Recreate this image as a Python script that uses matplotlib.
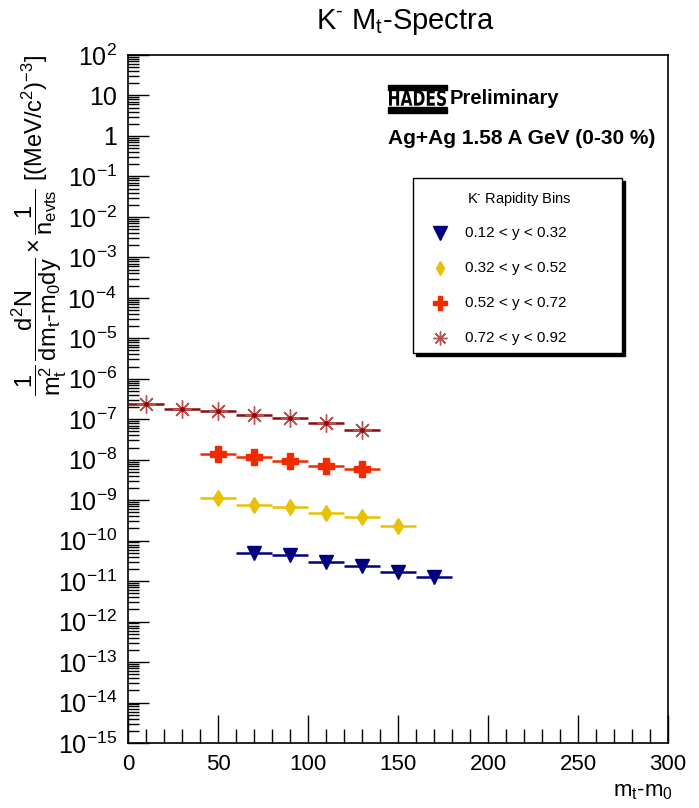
import matplotlib
matplotlib.use("Agg")
import matplotlib.pyplot as plt
from matplotlib.patches import Rectangle, PathPatch
from matplotlib.textpath import TextPath
from matplotlib.font_manager import FontProperties
from matplotlib.transforms import Affine2D, IdentityTransform
from matplotlib.ticker import FixedLocator, FuncFormatter, MultipleLocator, LogLocator, NullFormatter
import numpy as np

plt.rcParams['font.family'] = ['Liberation Sans', 'DejaVu Sans']
plt.rcParams['mathtext.fontset'] = 'custom'
plt.rcParams['mathtext.rm'] = 'Liberation Sans'
plt.rcParams['mathtext.it'] = 'Liberation Sans'
plt.rcParams['mathtext.bf'] = 'Liberation Sans:bold'

# ---- data ----
labels = ["0.12 < y < 0.32", "0.32 < y < 0.52", "0.52 < y < 0.72", "0.72 < y < 0.92"]
x_blue = [70, 90, 110, 130, 150, 170]
y_blue = [5.0e-11, 4.3e-11, 3.0e-11, 2.3e-11, 1.7e-11, 1.26e-11]
x_yellow = [50, 70, 90, 110, 130, 150]
y_yellow = [1.13e-9, 7.4e-10, 6.9e-10, 4.7e-10, 3.8e-10, 2.3e-10]
x_red = [50, 70, 90, 110, 130]
y_red = [1.41e-8, 1.16e-8, 9.1e-9, 7.1e-9, 6.0e-9]
x_brown = [10, 30, 50, 70, 90, 110, 130]
y_brown = [2.37e-7, 1.82e-7, 1.56e-7, 1.24e-7, 1.07e-7, 8.3e-8, 5.3e-8]
bin_half_width = 10

colors = ["#000080", "#E8C100", "#F22A00", "#8C0A0A"]
markers = ["v", "d", "P", (8, 2, 0)]
msizes = [10, 8, 11, 13]

W, H = 699, 808
fig = plt.figure(figsize=(W / 100, H / 100), dpi=100)
ax = fig.add_axes([128 / W, 1 - 743 / H, 540 / W, 688 / H])

series = [(x_blue, y_blue), (x_yellow, y_yellow), (x_red, y_red), (x_brown, y_brown)]
for (xs, ys), c, m, ms in zip(series, colors, markers, msizes):
    ax.errorbar(xs, ys, xerr=bin_half_width, fmt='none', ecolor=c, elinewidth=1.8, capsize=0, zorder=2)
    kw = dict(markeredgewidth=1.0)
    if m == (8, 2, 0):
        kw = dict(markeredgewidth=1.0, markeredgecolor="#C05050")
    ax.plot(xs, ys, linestyle='none', marker=m, color=c, markersize=ms, zorder=3, **kw)
    if m == (8, 2, 0):
        ax.plot(xs, ys, linestyle='none', marker='o', color=c, markersize=2.5, zorder=4)

ax.set_yscale('log')
ax.set_xlim(0, 300)
ax.set_ylim(1e-15, 1e2)

ax.xaxis.set_major_locator(MultipleLocator(50))
ax.xaxis.set_minor_locator(MultipleLocator(10))
ax.yaxis.set_major_locator(FixedLocator([10.0 ** k for k in range(-15, 3)]))
ax.yaxis.set_minor_locator(LogLocator(base=10, subs=np.arange(2, 10), numticks=40))
ax.yaxis.set_minor_formatter(NullFormatter())

def yfmt(v, pos):
    k = int(round(np.log10(v)))
    if k == 0:
        return "1"
    if k == 1:
        return "10"
    return r"$10^{%d}$" % k
ax.yaxis.set_major_formatter(FuncFormatter(yfmt))

ax.tick_params(axis='both', which='both', direction='in', top=False, right=False, width=1, color='black')
ax.tick_params(axis='y', which='major', length=15, pad=8, labelsize=18)
ax.tick_params(axis='y', which='minor', length=8)
ax.tick_params(axis='x', which='major', length=20, pad=8, labelsize=16)
ax.tick_params(axis='x', which='minor', length=10)
for sp in ax.spines.values():
    sp.set_linewidth(1.2)

# axis titles
fig.text(643 / W, 1 - 792 / H, r"m$_{\mathrm{t}}$-m$_{0}$", fontsize=16, ha='center', va='center')
ylabel = (r"$\dfrac{1}{\mathrm{m_t^2}}\,\dfrac{\mathrm{d^2N}}{\mathrm{dm_t}\text{-}\mathrm{m_0dy}}\times"
          r"\dfrac{1}{\mathrm{n_{evts}}}\ [(\mathrm{MeV/c^2})^{-3}]$")
fig.text(40 / W, 1 - 225 / H, ylabel, fontsize=17, rotation=90, ha='center', va='center')

# title
fig.text(405 / W, 1 - 22 / H, r"K$^{\text{-}}$ M$_{\mathrm{t}}$-Spectra", fontsize=21, ha='center', va='center')

# HADES logo: condensed bold text squeezed between two black bars
fig.patches.append(Rectangle((388 / W, 1 - 90 / H), 59 / W, 5 / H, transform=fig.transFigure, color='black'))
fig.patches.append(Rectangle((388 / W, 1 - 113 / H), 59 / W, 6 / H, transform=fig.transFigure, color='black'))
tp = TextPath((0, 0), "HADES", size=20, prop=FontProperties(family='DejaVu Sans', weight='bold'))
ext = tp.get_extents()
sx = 57 / ext.width
sy = 16 / ext.height
tr = Affine2D().translate(-ext.x0, -ext.y0).scale(sx, sy).translate(389, H - 106)
fig.patches.append(PathPatch(tp, transform=tr + IdentityTransform(), facecolor='black', edgecolor='none'))

fig.text(450 / W, 1 - 98 / H, "Preliminary", fontsize=14.5, fontweight='bold', ha='left', va='center')
fig.text(388 / W, 1 - 139 / H, "Ag+Ag 1.58 A GeV (0-30 %)", fontsize=15, fontweight='bold', ha='left', va='center')

# legend box (manual, ROOT style)
bx0, by0, bx1, by1 = 413, 178, 622, 353
fig.patches.append(Rectangle(((bx0 + 3) / W, 1 - (by1 + 3) / H), (bx1 - bx0) / W, (by1 - by0) / H,
                             transform=fig.transFigure, facecolor='black', edgecolor='black', zorder=5))
fig.patches.append(Rectangle((bx0 / W, 1 - by1 / H), (bx1 - bx0) / W, (by1 - by0) / H,
                             transform=fig.transFigure, facecolor='white', edgecolor='black', linewidth=1, zorder=6))
fig.text(519 / W, 1 - 199 / H, r"K$^{\text{-}}$ Rapidity Bins", fontsize=10.5, ha='center', va='center', zorder=7)
leg_y = [233, 268, 303, 338]
leg_ms = [10, 7, 10, 10]
for ly, lab, c, m, ms in zip(leg_y, labels, colors, markers, leg_ms):
    kw = {}
    if m == (8, 2, 0):
        kw = dict(markeredgecolor="#C05050", markeredgewidth=1.0)
    fig.lines.append(plt.Line2D([440 / W], [1 - ly / H], transform=fig.transFigure, marker=m, color=c,
                                markersize=ms, linestyle='none', zorder=7, **kw))
    fig.text(465 / W, 1 - ly / H, lab, fontsize=11, ha='left', va='center', zorder=7)

fig.savefig("out.png", dpi=100)
